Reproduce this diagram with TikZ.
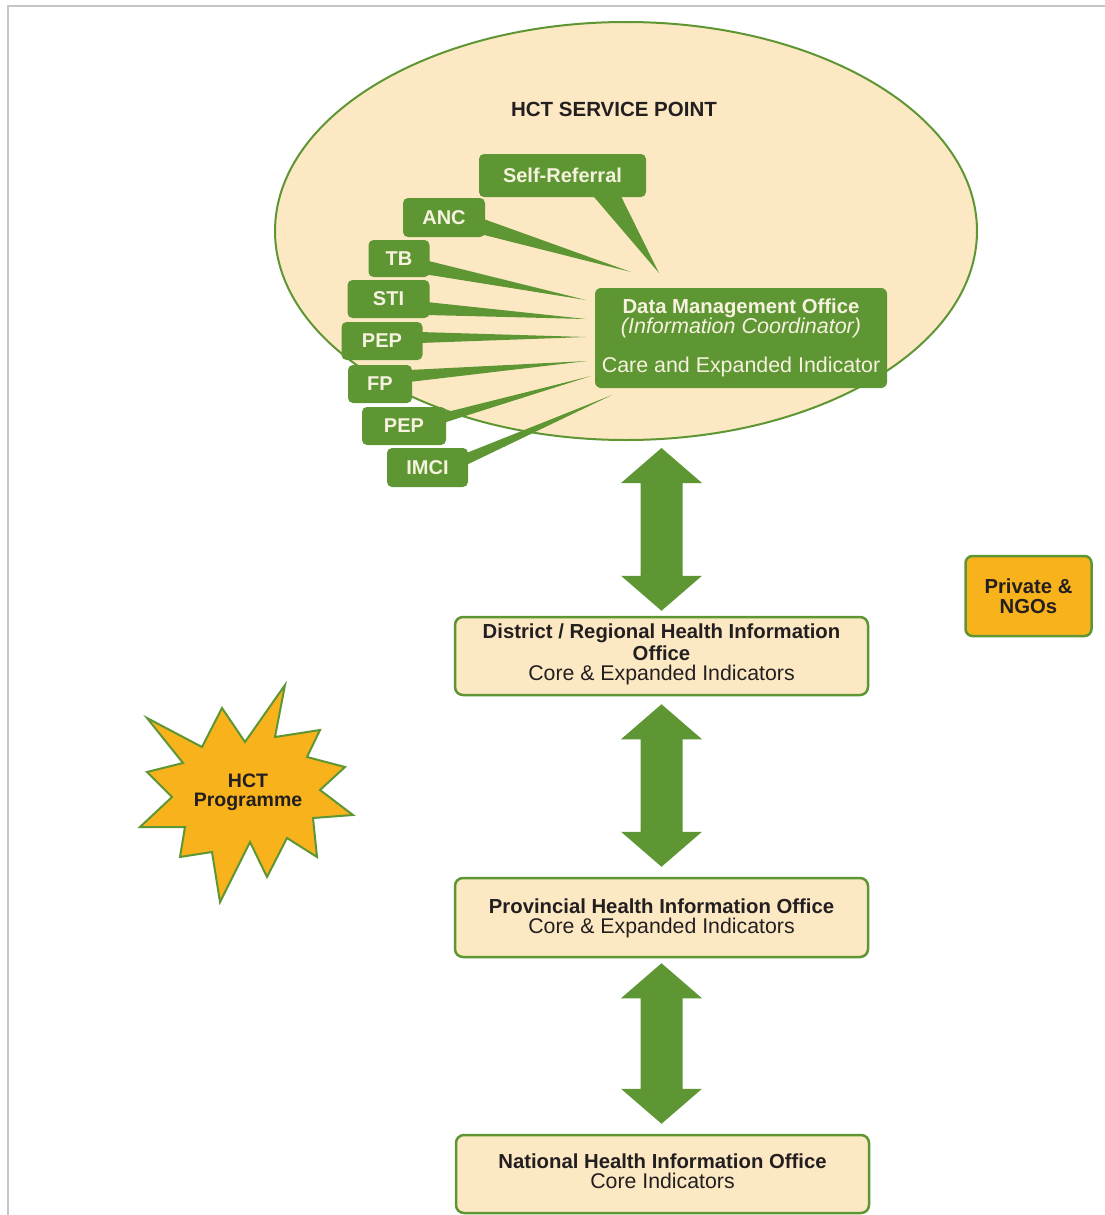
\documentclass[tikz,border=0pt]{standalone}
\usepackage{fontspec}
\setmainfont{Liberation Sans}
\usetikzlibrary{shapes.geometric,calc}
\definecolor{grn}{RGB}{94,150,52}
\definecolor{tanfill}{RGB}{252,233,196}
\definecolor{org}{RGB}{248,178,28}
\definecolor{ink}{RGB}{35,31,32}
\definecolor{cream}{RGB}{246,242,222}
\newcommand\dblarrow[2]{\fill[grn] let \p1=(#1), \p2=(#2) in
 (\x1,\y1) -- (\x1+40.5pt,\y1-35pt) -- (\x1+21pt,\y1-35pt) -- (\x1+21pt,\y2+35pt) -- (\x1+40.5pt,\y2+35pt) -- (\x1,\y2) -- (\x1-40.5pt,\y2+35pt) -- (\x1-21pt,\y2+35pt) -- (\x1-21pt,\y1-35pt) -- (\x1-40.5pt,\y1-35pt) -- cycle;}
\begin{document}
\begin{tikzpicture}[x=1pt,y=-1pt,
  callout/.style={fill=grn, rounded corners=5pt, text=cream, font=\fontsize{20}{20}\selectfont\bfseries, inner sep=0pt},
  office/.style={draw=grn, line width=2.5pt, fill=tanfill, rounded corners=8pt, minimum width=413pt, minimum height=78pt, inner sep=0pt},
  bt/.style={anchor=base, text=ink, inner sep=0pt, font=\fontsize{20.3}{20}\selectfont\bfseries},
  rt/.style={anchor=base, text=ink, inner sep=0pt, font=\fontsize{21.3}{20}\selectfont}]
\useasboundingbox (0,0) rectangle (1105,1215);
\fill[white] (0,0) rectangle (1105,1215);
\draw[gray!45, line width=1.2pt] (8,1215) -- (8,6) -- (1105,6);

% service point ellipse
\node[ellipse, draw=grn, line width=2pt, fill=tanfill, minimum width=702pt, minimum height=418pt, inner sep=0pt] (spt) at (626,231) {};
\node[anchor=base, text=ink, font=\fontsize{20.5}{20.5}\selectfont\bfseries] (title) at (614,116) {HCT SERVICE POINT};

% callouts
\node[callout, minimum width=167pt, minimum height=43pt] (sr) at (562.5,175.5) {Self-Referral};
\node[callout, minimum width=82pt, minimum height=39pt] (anc) at (444,217.5) {ANC};
\node[callout, minimum width=61pt, minimum height=37pt] (tb) at (399,258.5) {TB};
\node[callout, minimum width=82pt, minimum height=38pt] (sti) at (388.5,299) {STI};
\node[callout, minimum width=81pt, minimum height=38pt] (pep1) at (382,341) {PEP};
\node[callout, minimum width=64pt, minimum height=38pt] (fp) at (380,384) {FP};
\node[callout, minimum width=84pt, minimum height=38pt] (pep2) at (404,426) {PEP};
\node[callout, minimum width=81pt, minimum height=39pt] (imci) at (427.5,467.5) {IMCI};

\coordinate (tsr) at (659,273);
\coordinate (tanc) at (631,272);
\coordinate (ttb) at (586,300);
\coordinate (tsti) at (586,319);
\coordinate (tpep1) at (586,337);
\coordinate (tfp) at (587,361);
\coordinate (tpep2) at (591,376);
\coordinate (timci) at (612,395);

\fill[grn] ($(sr.south)+(30,-2)$) -- (tsr) -- ($(sr.south)+(58,-2)$) -- cycle;
\fill[grn] ($(anc.east)+(-3,1)$) -- (tanc) -- ($(anc.east)+(-3,17)$) -- cycle;
\fill[grn] ($(tb.east)+(-3,2)$) -- (ttb) -- ($(tb.east)+(-3,16)$) -- cycle;
\fill[grn] ($(sti.east)+(-3,3)$) -- (tsti) -- ($(sti.east)+(-3,16)$) -- cycle;
\fill[grn] ($(pep1.east)+(-3,-9)$) -- (tpep1) -- ($(pep1.east)+(-3,2)$) -- cycle;
\fill[grn] ($(fp.east)+(-3,-14)$) -- (tfp) -- ($(fp.east)+(-3,-2)$) -- cycle;
\fill[grn] ($(pep2.east)+(-3,-13)$) -- (tpep2) -- ($(pep2.east)+(-3,-3)$) -- cycle;
\fill[grn] ($(imci.east)+(-3,-14)$) -- (timci) -- ($(imci.east)+(-3,-2)$) -- cycle;

% data management office
\node[fill=grn, rounded corners=6pt, minimum width=292pt, minimum height=100pt, inner sep=0pt] (dmo) at (741,338) {};
\node[anchor=base, text=cream, font=\fontsize{20.3}{20}\selectfont\bfseries] (dmo1) at (741,313) {Data Management Office};
\node[anchor=base, text=cream, font=\fontsize{21.5}{20}\selectfont\itshape] (dmo2) at (741,333) {(Information Coordinator)};
\node[anchor=base, text=cream, font=\fontsize{21.4}{20}\selectfont] (dmo3) at (741,372) {Care and Expanded Indicator};

% offices
\node[office] (district) at (661.5,656) {};
\node[bt] (dis1) at (661.5,638) {District / Regional Health Information};
\node[bt] (dis2) at (661.5,660) {Office};
\node[rt] (dis3) at (661.5,680) {Core \& Expanded Indicators};

\node[office, minimum height=79pt] (prov) at (661.5,917.5) {};
\node[bt] (pro1) at (661.5,913) {Provincial Health Information Office};
\node[rt] (pro2) at (661.5,933) {Core \& Expanded Indicators};

\node[office] (nat) at (662.5,1174) {};
\node[bt] (nat1) at (662.5,1168) {National Health Information Office};
\node[rt] (nat2) at (662.5,1188) {Core Indicators};

% arrows
\coordinate (a1t) at ($(district.north |- spt.south)+(0,7)$);
\coordinate (a1b) at ($(district.north)+(0,-5)$);
\coordinate (a2t) at ($(district.south)+(0,8)$);
\coordinate (a2b) at ($(prov.north)+(0,-10)$);
\coordinate (a3t) at ($(prov.south)+(0,5)$);
\coordinate (a3b) at ($(nat.north)+(0,-10)$);
\dblarrow{a1t}{a1b}
\dblarrow{a2t}{a2b}
\dblarrow{a3t}{a3b}

% private & NGOs
\node[draw=grn, line width=2.5pt, fill=org, rounded corners=7pt, minimum width=126pt, minimum height=80pt, inner sep=0pt] (priv) at (1028.5,596) {};
\node[bt] (priv1) at (1028.5,593) {Private \&};
\node[bt] (priv2) at (1028.5,613) {NGOs};

% HCT programme star
\draw[draw=grn, line width=2pt, fill=org, line join=miter] (285,685) -- (275,737) -- (320,730) -- (307,757) -- (345,767) -- (320,790) -- (353,815) -- (313,818) -- (317,857) -- (287,838) -- (267,877) -- (250,842) -- (220,902) -- (212,852) -- (180,857) -- (185,827) -- (140,827) -- (172,797) -- (147,772) -- (183,763) -- (147,718) -- (202,747) -- (222,708) -- (245,742) -- cycle;
\node[bt, font=\fontsize{19.5}{19.5}\selectfont\bfseries] (hct1) at (248,787) {HCT};
\node[bt, font=\fontsize{19.5}{19.5}\selectfont\bfseries] (hct2) at (248,806) {Programme};
\end{tikzpicture}
\end{document}
